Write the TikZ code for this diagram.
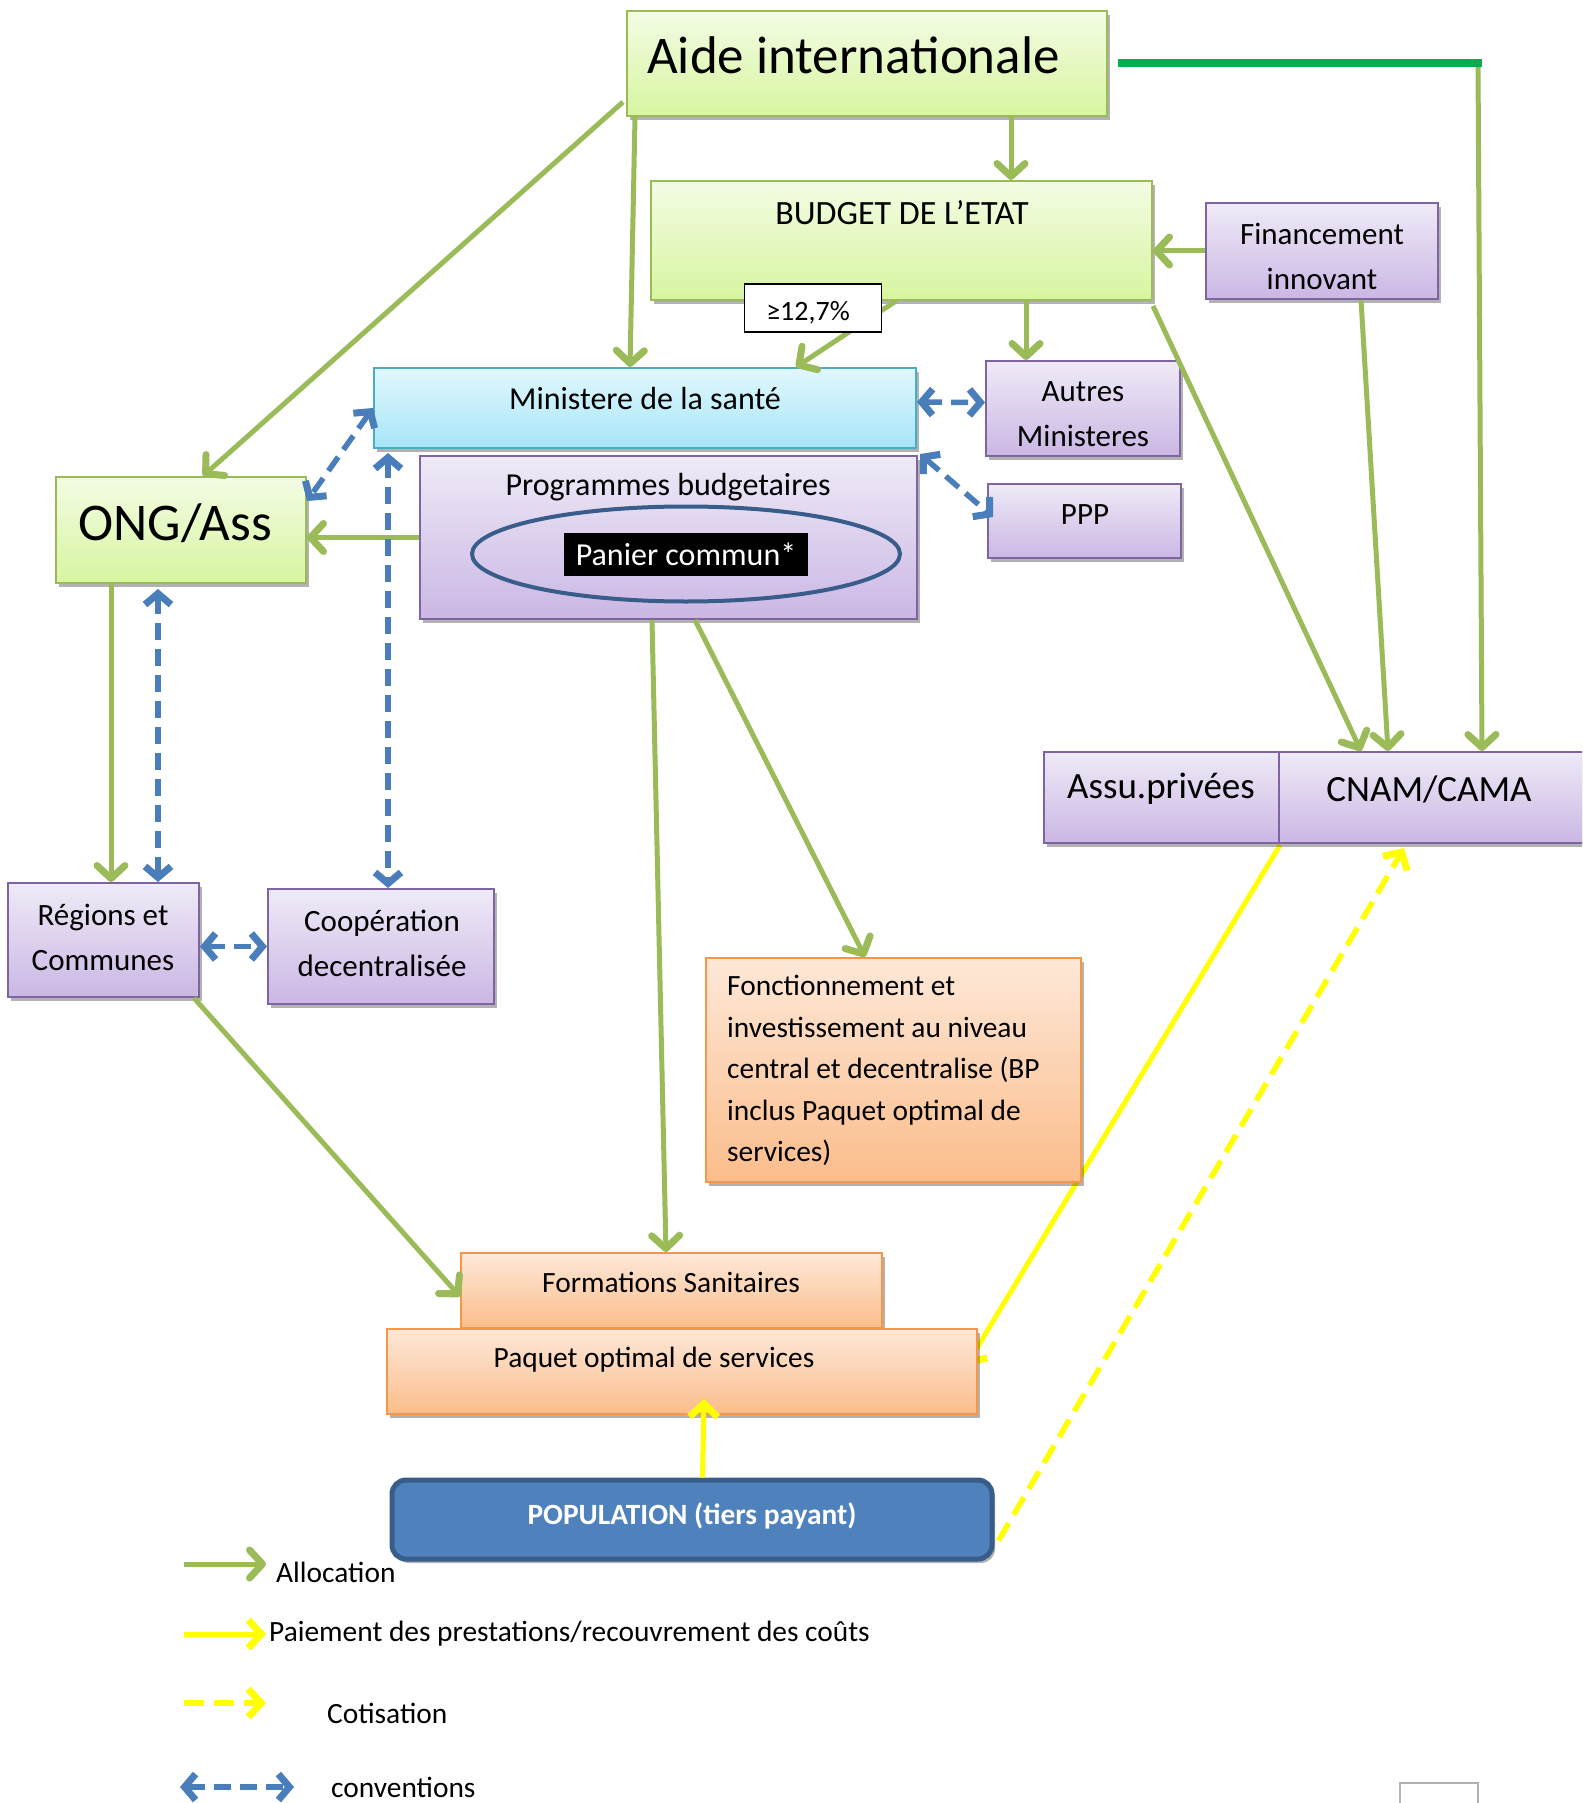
\documentclass[tikz,border=0pt]{standalone}
\usepackage{fontspec}
\setmainfont{Carlito}
\usepackage{xcolor}
\usetikzlibrary{arrows.meta,fit,shadows,shapes.geometric}

\definecolor{allocgreen}{HTML}{9BBB59}
\definecolor{bargreen}{HTML}{00B050}
\definecolor{convblue}{HTML}{4A7EBB}
\definecolor{payyellow}{HTML}{FFFF00}
\definecolor{greenedge}{HTML}{9BBB59}
\definecolor{greentop}{HTML}{F3FCE4}
\definecolor{greenbot}{HTML}{D7F5A0}
\definecolor{purpleedge}{HTML}{8064A2}
\definecolor{purpletop}{HTML}{EFEAF7}
\definecolor{purplebot}{HTML}{CAB7E4}
\definecolor{cyanedge}{HTML}{4BACC6}
\definecolor{cyantop}{HTML}{E1F8FD}
\definecolor{cyanbot}{HTML}{A6E5F8}
\definecolor{orangeedge}{HTML}{F79646}
\definecolor{orangetop}{HTML}{FDE8D8}
\definecolor{orangebot}{HTML}{FBBD8B}
\definecolor{popfill}{HTML}{4F81BD}
\definecolor{popedge}{HTML}{385D8A}

\begin{document}
\begin{tikzpicture}[x=1pt,y=-1pt,
    box/.style={draw,line width=2pt,inner sep=0pt,drop shadow={shadow xshift=3pt,shadow yshift=-4pt,opacity=0.3,fill=black}},
    greenbox/.style={box,draw=greenedge,top color=greentop,bottom color=greenbot},
    purplebox/.style={box,draw=purpleedge,top color=purpletop,bottom color=purplebot},
    cyanbox/.style={box,draw=cyanedge,top color=cyantop,bottom color=cyanbot},
    orangebox/.style={box,draw=orangeedge,top color=orangetop,bottom color=orangebot},
    popbox/.style={box,draw=popedge,fill=popfill,line width=5pt,rounded corners=14pt},
    txt/.style={inner sep=0pt,align=center,font=\fontsize{31}{45}\selectfont},
    small/.style={txt,font=\fontsize{29.4}{41.5}\selectfont},
    alloc/.style={draw=allocgreen,line width=5pt,-{Straight Barb[length=13pt,width=28pt,line width=7pt,round]}},
    conv/.style={draw=convblue,line width=5.5pt,dash pattern=on 17pt off 9pt,{Straight Barb[length=11pt,width=26pt,line width=7pt]}-{Straight Barb[length=11pt,width=26pt,line width=7pt]}},
    pay/.style={draw=payyellow,line width=5pt,-{Straight Barb[length=13pt,width=28pt,line width=7pt]}},
    cotis/.style={pay,line width=5.5pt,dash pattern=on 20pt off 10pt}]

                \useasboundingbox (0,0) rectangle (1582,1803);
                \clip (0,0) rectangle (1582,1803);

                \coordinate (cnamcorner) at (1280,845);
                \coordinate (paquetin) at (966,1366);
                \draw[pay] (cnamcorner) -- (paquetin);

                \node[greenbox,fit={(627,11) (1107,116)}] (aide) {};
                \node[greenbox,fit={(651,181) (1152,300)}] (budget) {};
                \node[purplebox,fit={(1206,203) (1438,299)}] (financement) {};
                \node[cyanbox,fit={(374,368) (916,448)}] (ministere) {};
                \node[purplebox,fit={(986,361) (1180,456)}] (autres) {};
                \node[purplebox,fit={(988,484) (1181,558)}] (ppp) {};
                \node[purplebox,fit={(420,456) (917,619)}] (programmes) {};
                \node[greenbox,fit={(56,477) (306,583)}] (ong) {};
                \node[purplebox,fit={(8,883) (199,997)}] (regions) {};
                \node[purplebox,fit={(268,889) (494,1004)}] (cooperation) {};
                \node[orangebox,fit={(706,958) (1081,1182)}] (fonctionnement) {};
                \node[orangebox,fit={(461,1253) (882,1328)}] (formations) {};
                \node[orangebox,fit={(387,1329) (977,1414)}] (paquet) {};
                \node[popbox,fit={(392,1480) (992,1559)}] (population) {};
                \node[purplebox,fit={(1044,752) (1279,843)}] (assu) {};
                \node[purplebox,fit={(1279,752) (1620,843)}] (cnam) {};

                \node[ellipse,draw=popedge,line width=4pt,minimum width=428pt,minimum height=95pt,inner sep=0pt] (panier) at (686,554) {};
                \node[txt,fill=black,text=white,minimum width=244pt,minimum height=43pt,font=\fontsize{32}{36}\selectfont] (paniertxt) at (panier.center) {Panier commun*};

                \node[txt,anchor=west,font=\fontsize{53}{60}\selectfont] (aidetxt) at (647,55) {Aide internationale};
                \node[txt,font=\fontsize{34}{40}\selectfont] (budgettxt) at (902,213) {BUDGET DE L’ETAT};
                \node[txt] (financementtxt) at (1322,256) {Financement\\innovant};
                \node[txt,font=\fontsize{32}{40}\selectfont] (ministeretxt) at (645,399) {Ministere de la santé};
                \node[txt] (autrestxt) at (1083,414) {Autres\\Ministeres};
                \node[txt] (ppptxt) at (1085,515) {PPP};
                \node[txt,font=\fontsize{32}{40}\selectfont] (programmestxt) at (668,487) {Programmes budgetaires};
                \node[txt,font=\fontsize{53}{60}\selectfont] (ongtxt) at (175,523) {ONG/Ass};
                \node[txt] (regionstxt) at (103,937) {Régions et\\Communes};
                \node[txt] (cooperationtxt) at (382,943) {Coopération\\decentralisée};
                \node[small,align=left,anchor=north west] (fonctionnementtxt) at (727,975) {Fonctionnement et\\investissement au niveau\\central et decentralise (BP\\inclus Paquet optimal de\\services)};
                \node[small] (formationstxt) at (671,1282) {Formations Sanitaires};
                \node[small] (paquettxt) at (654,1360) {Paquet optimal de services};
                \node[small,text=white,font=\fontsize{29.4}{36}\bfseries] (populationtxt) at (692,1516) {POPULATION (tiers payant)};
                \node[txt,font=\fontsize{37}{44}\selectfont] (assutxt) at (1161,789) {Assu.privées};
                \node[txt,font=\fontsize{37}{44}\selectfont] (cnamtxt) at (1429,789) {CNAM/CAMA};

                \coordinate (corner) at ([xshift=370pt]aide.east);
                \draw[alloc] ([xshift=385pt]aide.south west) -- ([xshift=361pt]budget.north west);
                \draw[alloc] ([xshift=-3pt,yshift=15pt]aide.south west) -- ([xshift=148pt]ong.north west);
                \draw[alloc] ([xshift=9pt]aide.south west) -- ([xshift=257pt]ministere.north west);
                \draw[alloc] ([xshift=246pt]budget.south west) -- ([xshift=423pt]ministere.north west);
                \draw[alloc] ([xshift=376pt]budget.south west) -- ([xshift=41pt]autres.north west);
                \draw[alloc] ([yshift=-5pt]budget.south east) -- ([xshift=83pt]cnam.north west);
                \draw[alloc] (financement.west) -- (budget.east |- financement.west);
                \draw[alloc] ([xshift=156pt]financement.south west) -- ([xshift=110pt]cnam.north west);
                \draw[alloc] (corner) -- ([xshift=204pt]cnam.north west);
                \draw[bargreen,line width=8pt] ([xshift=10pt]aide.east) -- ([xshift=4pt]corner);
                \draw[alloc] (programmes.west) -- (ong.east |- programmes.west);
                \draw[alloc] ([xshift=56pt]ong.south west) -- ([xshift=104pt]regions.north west);
                \draw[alloc] ([xshift=233pt]programmes.south west) -- ([xshift=206pt]formations.north west);
                \draw[alloc] ([xshift=276pt]programmes.south west) -- ([xshift=160pt]fonctionnement.north west);
                \draw[alloc] ([xshift=-6pt]regions.south east) -- ([yshift=-6pt]formations.west);

                \draw[conv] ([yshift=6pt]ministere.east) -- ([yshift=6pt]autres.west);
                \draw[conv] ([xshift=3pt,yshift=-5pt]ministere.south east) -- ([xshift=6pt,yshift=4pt]ppp.west);
                \draw[conv] (ministere.west) -- ([yshift=-25pt]ong.north east);
                \draw[conv] ([xshift=15pt,yshift=-4pt]ministere.south west) -- ([xshift=121pt]cooperation.north west);
                \draw[conv] ([xshift=103pt,yshift=-5pt]ong.south west) -- ([xshift=151pt]regions.north west);
                \draw[conv] (regions.east |- cooperation.west) -- (cooperation.west);

                \draw[pay] ([xshift=313pt]population.north west) -- ([xshift=318pt,yshift=16pt]paquet.south west);
                \draw[cotis] ([xshift=4pt,yshift=-21pt]population.east) -- ([xshift=126pt,yshift=-4pt]cnam.south west);

                \node[draw=black,fill=white,line width=1.5pt,minimum width=137pt,minimum height=48pt,inner sep=0pt] (pct) at (813,308) {};
                \node[txt,font=\fontsize{28}{34}\selectfont] (pcttxt) at (808,313) {≥12,7\%};

                \node[small,anchor=west] (legalloc) at (276,1572) {Allocation};
                \node[small,anchor=west] (legpay) at (269,1634) {Paiement des prestations/recouvrement des coûts};
                \node[small,anchor=west] (legcotis) at (327,1713) {Cotisation};
                \node[small,anchor=west] (legconv) at (331,1787) {conventions};
                \draw[alloc] ([xshift=-92pt,yshift=8pt]legalloc.west) -- ([xshift=-10pt,yshift=8pt]legalloc.west);
                \draw[pay] ([xshift=-85pt]legpay.west) -- ([xshift=-3pt]legpay.west);
                \draw[cotis] ([xshift=-143pt,yshift=10pt]legcotis.west) -- ([xshift=-61pt,yshift=10pt]legcotis.west);
                \draw[conv] ([xshift=-151pt]legconv.west) -- ([xshift=-37pt]legconv.west);

                \draw[gray!60,line width=1.5pt] (1400,1803) |- (1478,1783) -- (1478,1803);
            \end{tikzpicture}
\end{document}
